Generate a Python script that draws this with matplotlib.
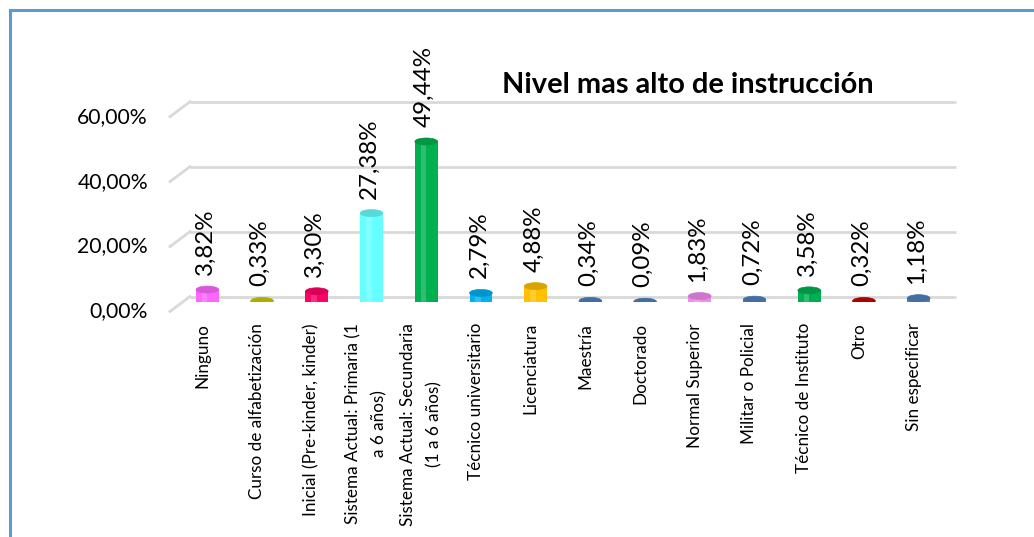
import matplotlib
matplotlib.use("Agg")
import matplotlib.pyplot as plt
from matplotlib.patches import Ellipse
from matplotlib.lines import Line2D
import matplotlib.colors as mcolors

categories = [
    "Ninguno",
    "Curso de alfabetización",
    "Inicial (Pre-kinder, kinder)",
    "Sistema Actual: Primaria (1\na 6 años)",
    "Sistema Actual: Secundaria\n(1 a 6 años)",
    "Técnico universitario",
    "Licenciatura",
    "Maestría",
    "Doctorado",
    "Normal Superior",
    "Militar o Policial",
    "Técnico de Instituto",
    "Otro",
    "Sin especificar",
]
values = [3.82, 0.33, 3.30, 27.38, 49.44, 2.79, 4.88, 0.34, 0.09, 1.83, 0.72, 3.58, 0.32, 1.18]
value_labels = ["3,82%", "0,33%", "3,30%", "27,38%", "49,44%", "2,79%", "4,88%",
                "0,34%", "0,09%", "1,83%", "0,72%", "3,58%", "0,32%", "1,18%"]
yticks = [0, 20, 40, 60]
ytick_labels = ["0,00%", "20,00%", "40,00%", "60,00%"]
colors = ["#FF66FF", "#CCCC00", "#FF0066", "#66FFFF", "#00B050", "#00B0F0", "#FFC000",
          "#4F81BD", "#4F81BD", "#F08CF0", "#4F81BD", "#00B050", "#CC0000", "#4F81BD"]
title = "Nivel mas alto de instrucción"

FONT = ["Lato", "DejaVu Sans"]
plt.rcParams["font.family"] = FONT

W, H = 1034, 537
fig = plt.figure(figsize=(W / 100, H / 100), dpi=100)
fig.patch.set_facecolor("white")

left_px, right_px = 180.0, 946.0
zero_px, top_px = 302.0, 107.2
ax = fig.add_axes([left_px / W, 1 - zero_px / H,
                   (right_px - left_px) / W, (zero_px - top_px) / H])
n = len(categories)
ax.set_xlim(-0.5, n - 0.5)
ax.set_ylim(0, 60)
ax.axis("off")

ux = (right_px - left_px) / n      # px per category unit
uy = (zero_px - top_px) / 60.0     # px per percent
PT = 0.72                          # pt per px

# 3D walls: back gridlines and left-side diagonals
gcol = "#D9D9D9"
for g in yticks:
    yb = g + 5.5 / uy
    yf = g - 9.5 / uy
    xb0 = -0.5 + 10 / ux
    xf0 = -0.5 - 10 / ux
    ax.plot([xb0, n - 0.5 + 10 / ux], [yb, yb], color=gcol, lw=2.0, zorder=1,
            clip_on=False, solid_capstyle="butt")
    ax.plot([xf0, xb0], [yf, yb], color=gcol, lw=2.0, zorder=1, clip_on=False)

tick_texts = []
for g, lbl in zip(yticks, ytick_labels):
    t = ax.text(-0.5 - 10 / ux - 22 / ux, g - 9.5 / uy, lbl, ha="right", va="center",
                fontsize=16, color="#000000", clip_on=False)
    tick_texts.append(t)

# cylinders
bw = 22.7 / ux
eh = 7.0 / uy
xs = list(range(n))
ax.bar(xs, values, width=bw, color=colors, zorder=3, linewidth=0)
for i, (v, c) in enumerate(zip(values, colors)):
    rgb = mcolors.to_rgb(c)
    dark = tuple(max(0, ch * 0.85) for ch in rgb)
    ax.add_patch(Ellipse((i, 0), bw, eh, facecolor=c, edgecolor="none", zorder=2.9))
    if v > 1.5:
        ax.bar(i - bw * 0.12, v, width=bw * 0.25, color="white", alpha=0.18,
               zorder=3.1, linewidth=0)
    ax.add_patch(Ellipse((i, v), bw, eh, facecolor=dark, edgecolor=dark,
                         linewidth=0.5, zorder=4))

# value labels
val_texts = []
for i, (v, lbl) in enumerate(zip(values, value_labels)):
    t = ax.annotate(lbl, xy=(i, v), xytext=(-2 * PT, 14.5 * PT),
                    textcoords="offset points", rotation=90, ha="center",
                    va="bottom", fontsize=20, color="#000000", zorder=5,
                    annotation_clip=False)
    val_texts.append(t)

# category labels
cat_texts = []
for i, lbl in enumerate(categories):
    t = ax.annotate(lbl, xy=(i, 0), xytext=(-5 * PT, -21 * PT),
                    textcoords="offset points", rotation=90, ha="center",
                    va="top", multialignment="center", fontsize=12,
                    linespacing=1.75, color="#000000", annotation_clip=False)
    cat_texts.append(t)

title_text = fig.text(688 / W, 1 - 85 / H, title, ha="center", va="center",
                      fontsize=20, fontweight="bold", color="#000000")

# border (left and top)
bcol = "#5B9BD5"
fig.add_artist(Line2D([9.5 / W, 9.5 / W], [0, 1 - 9.5 / H], transform=fig.transFigure,
                      color=bcol, lw=2.2, solid_capstyle="projecting"))
fig.add_artist(Line2D([9.5 / W, 1], [1 - 9.5 / H, 1 - 9.5 / H], transform=fig.transFigure,
                      color=bcol, lw=2.2, solid_capstyle="projecting"))

# fit font sizes to measured reference extents
fig.canvas.draw()
r = fig.canvas.get_renderer()


def fit(group, ref, target, use_height):
    bb = ref.get_window_extent(r)
    cur = bb.height if use_height else bb.width
    s = ref.get_fontsize() * target / cur
    for t in group:
        t.set_fontsize(s)


fit(tick_texts, tick_texts[-1], 71.0, False)
fit(val_texts, val_texts[4], 81.0, True)
fit(cat_texts, cat_texts[1], 175.0, True)
fit([title_text], title_text, 372.0, False)

fig.savefig("out.png", dpi=100, facecolor="white")
